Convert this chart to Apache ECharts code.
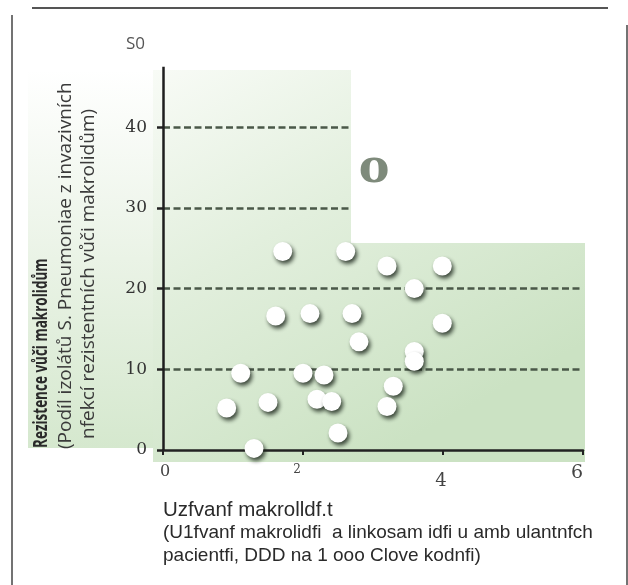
<!DOCTYPE html>
<html>
<head>
<meta charset="utf-8">
<script src="https://cdn.jsdelivr.net/npm/echarts@6/dist/echarts.min.js"></script>
<style>
html,body{margin:0;padding:0;background:#fff;}
#chart{width:628px;height:585px;}
</style>
</head>
<body>
<div id="chart"></div>
<script>
// ---- data ----
const usage      = [1.71, 2.61, 3.20, 3.99, 3.59, 1.61, 2.10, 2.70, 3.99, 2.80, 3.59, 3.59, 1.11, 2.00, 2.30, 3.29, 0.91, 1.50, 2.20, 2.41, 3.20, 2.50, 1.30];
const resistance = [24.6, 24.6, 22.8, 22.8, 20.0, 16.6, 16.9, 16.9, 15.7, 13.4, 12.2, 11.0, 9.5, 9.5, 9.3, 7.9, 5.2, 5.9, 6.3, 6.0, 5.4, 2.1, 0.2];
const xTickValues = [0, 2, 4, 6];
const yTickValues = [0, 10, 20, 30, 40, 50];
const yTickLabels = ['0', '10', '20', '30', '40', 'S0'];
const gridLineY    = [10, 20, 30, 40];
const gridLineXEnd = [6, 6, 2.69, 2.69];
const yAxisTop = 47.5;
const cornerLabel = 'o';
const yTitle = ['Rezistence vůči makrolidům',
                '(Podíl izolátů S. Pneumoniae z invazivních',
                'nfekcí rezistentních vůči makrolidům)'];
const xTitle = ['Uzfvanf makrolldf.t',
                '(U1fvanf makrolidfi  a linkosam idfi u amb ulantnfch',
                'pacientfi, DDD na 1 ooo Clove kodnfi)'];

const chart = echarts.init(document.getElementById('chart'), null, {renderer: 'canvas'});

const points = usage.map((x, i) => [x, resistance[i]]);
const markLines = gridLineY.map((y, i) => [
  {coord: [0, y]}, {coord: [gridLineXEnd[i], y]}
]);

const serif = '"DejaVu Serif", "Liberation Serif", serif';

const option = {
  animation: false,
  backgroundColor: '#ffffff',
  grid: {left: 163, right: 45, top: 46.5, bottom: 135},
  xAxis: {
    type: 'value', min: 0, max: 6, interval: 2,
    axisLine: {show: true, onZero: false, lineStyle: {color: '#222', width: 2.5}},
    axisTick: {show: true, length: 5, lineStyle: {color: '#222', width: 2}},
    splitLine: {show: false},
    axisLabel: {
      margin: 14, color: '#444', fontFamily: serif, fontSize: 17,
      formatter: v => '{v' + v + '|' + v + '}',
      rich: {
        v0: {fontSize: 16, fontFamily: serif, color: '#444', padding: [0, 0, 0, 4]},
        v2: {fontSize: 12, fontFamily: serif, color: '#444', padding: [0, 12, 0, 0]},
        v4: {fontSize: 18, fontFamily: serif, color: '#444', padding: [8, 4, 0, 0]},
        v6: {fontSize: 19, fontFamily: serif, color: '#444', padding: [0, 12, 0, 0]}
      },
      customValues: xTickValues
    }
  },
  yAxis: {
    type: 'value', min: 0, max: 50, interval: 10,
    axisLine: {show: false},
    axisTick: {show: true, length: 6, lineStyle: {color: '#222', width: 2.5}, customValues: [0, 10, 20, 30, 40]},
    splitLine: {show: false},
    axisLabel: {
      margin: 16, color: '#333', fontFamily: serif, fontSize: 17,
      customValues: yTickValues,
      formatter: v => {
        const i = yTickValues.indexOf(v);
        const t = i >= 0 ? yTickLabels[i] : String(v);
        return v === 50 ? '{s|' + t + '}' : t;
      },
      rich: {s: {fontFamily: '"Open Sans", sans-serif', fontSize: 17, color: '#555', padding: [0, 2, 4, 0]}}
    }
  },
  series: [{
    type: 'scatter',
    data: points,
    symbol: 'circle',
    symbolSize: 19,
    z: 5,
    itemStyle: {
      color: '#ffffff', opacity: 1,
      shadowColor: 'rgba(20,30,20,0.8)', shadowBlur: 4, shadowOffsetX: 2, shadowOffsetY: 3
    },
    markLine: {
      silent: true, symbol: 'none', animation: false,
      label: {show: false},
      lineStyle: {color: '#4a5848', width: 2.5, type: [7, 3.5]},
      data: markLines.concat([[
        {coord: [0, 0], lineStyle: {type: 'solid', color: '#1e1e1e', width: 2.5}},
        {coord: [0, yAxisTop], lineStyle: {type: 'solid', color: '#1e1e1e', width: 2.5}}
      ]])
    }
  }],
  graphic: [
    // frame lines
    {type: 'line', z: -5, shape: {x1: 32, y1: 8, x2: 608, y2: 8}, style: {stroke: '#555', lineWidth: 2}},
    {type: 'line', z: -5, shape: {x1: 12, y1: 15, x2: 12, y2: 585}, style: {stroke: '#444', lineWidth: 1.5}},
    {type: 'line', z: -5, shape: {x1: 627, y1: 25, x2: 627, y2: 585}, style: {stroke: '#444', lineWidth: 1.5}},
    // y title background
    {type: 'rect', z: -20, shape: {x: 28, y: 70, width: 125, height: 378},
      style: {fill: new echarts.graphic.LinearGradient(0, 0, 0, 1, [
        {offset: 0, color: '#ffffff'}, {offset: 0.5, color: '#eaf3e6'}, {offset: 1, color: '#d5e8ce'}])}},
    // plot background (L shape)
    {type: 'polygon', z: -20,
      shape: {points: [[153, 70], [351, 70], [351, 243], [585, 243], [585, 462], [153, 462]]},
      style: {fill: new echarts.graphic.LinearGradient(0, 0, 0.5, 1, [
        {offset: 0, color: '#f8fbf6'}, {offset: 0.45, color: '#e2efdd'}, {offset: 1, color: '#cbe2c3'}])}},
    // corner label
    {type: 'text', z: 10, x: 374, y: 170,
      style: {text: cornerLabel, font: 'bold 46px "DejaVu Serif", serif', fill: '#7e8a7b', align: 'center', verticalAlign: 'middle'}},
    // y title (rotated)
    {type: 'text', z: 10, x: 42, y: 448, rotation: Math.PI / 2, scaleX: 0.71,
      style: {text: yTitle[0], font: 'bold 19px "Open Sans", sans-serif', fill: '#2a2a2a', align: 'left', verticalAlign: 'middle'}},
    {type: 'text', z: 10, x: 66, y: 449, rotation: Math.PI / 2,
      style: {text: yTitle[1], font: '19px "Open Sans", sans-serif', fill: '#3a3a3a', align: 'left', verticalAlign: 'middle'}},
    {type: 'text', z: 10, x: 89, y: 439, rotation: Math.PI / 2,
      style: {text: yTitle[2], font: '19px "Open Sans", sans-serif', fill: '#3a3a3a', align: 'left', verticalAlign: 'middle'}},
    // x title
    {type: 'text', z: 10, x: 163, y: 510,
      style: {text: xTitle[0], font: '20.5px "Liberation Sans", Arial, sans-serif', fill: '#2a2a2a', align: 'left', verticalAlign: 'middle'}},
    {type: 'text', z: 10, x: 163, y: 533,
      style: {text: xTitle[1], font: '19px "Liberation Sans", Arial, sans-serif', fill: '#2a2a2a', align: 'left', verticalAlign: 'middle'}},
    {type: 'text', z: 10, x: 163, y: 556,
      style: {text: xTitle[2], font: '19px "Liberation Sans", Arial, sans-serif', fill: '#2a2a2a', align: 'left', verticalAlign: 'middle'}}
  ]
};
chart.setOption(option);
</script>
</body>
</html>
